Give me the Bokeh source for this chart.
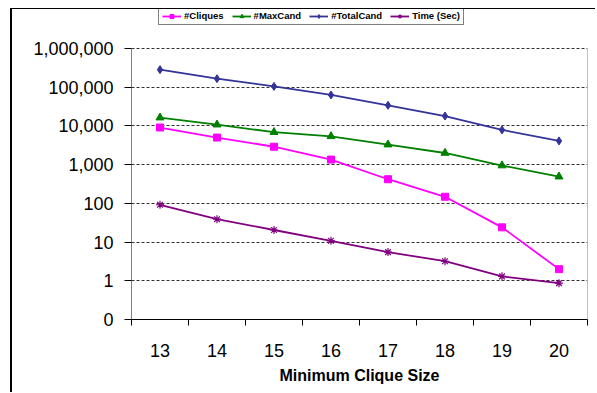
from bokeh.plotting import figure
from bokeh.models import Range1d, FixedTicker, Legend, LegendItem
from bokeh.embed import file_html
from bokeh.resources import INLINE

# ---- data ----
clique_sizes = [13, 14, 15, 16, 17, 18, 19, 20]
cliques = [9100, 5000, 2900, 1350, 420, 148, 24, 2.0]
max_cand = [16400, 10800, 6900, 5400, 3300, 2000, 950, 490]
total_cand = [284000, 166000, 105000, 63000, 34000, 18000, 7900, 4100]
time_sec = [92, 39, 20.5, 10.8, 5.5, 3.2, 1.3, 0.87]

y_ticks = [0.1, 1, 10, 100, 1000, 10000, 100000, 1000000]
y_tick_labels = ["0", "1", "10", "100", "1,000", "10,000", "100,000", "1,000,000"]
x_boundaries = [12.5, 13.5, 14.5, 15.5, 16.5, 17.5, 18.5, 19.5, 20.5]

series_names = ["#Cliques", "#MaxCand", "#TotalCand", "Time (Sec)"]

FONT = "Liberation Sans"
W, H = 585, 384
X0, X1 = x_boundaries[0], x_boundaries[-1]
Y0, Y1 = y_ticks[0], y_ticks[-1]
Y_TOP = 10 ** 7.0074  # extra head-room above the plot box, where the legend sits

p = figure(width=W, height=H, y_axis_type="log",
           x_range=Range1d(X0, X1), y_range=Range1d(Y0, Y_TOP),
           output_backend="svg", toolbar_location=None,
           min_border_left=119, min_border_top=0, min_border_right=10, min_border_bottom=74)
# outer chart border (left and top edges of the chart area)
p.styles = {"margin-left": "10px", "margin-top": "8px",
            "border-left": "2px solid black", "border-top": "1px solid black"}

p.outline_line_color = None
p.background_fill_color = "white"
p.border_fill_color = "white"

# grid
p.xgrid.visible = False
p.ygrid.ticker = FixedTicker(ticks=y_ticks[1:])
p.ygrid.grid_line_color = "#333333"
p.ygrid.grid_line_dash = "3 2"
p.ygrid.grid_line_width = 1

# plot-area box: black value axis on the left, grey edge on the right
p.segment(x0=[X0], y0=[Y0], x1=[X0], y1=[Y1], line_color="black", line_width=1)
p.segment(x0=[X1], y0=[Y0], x1=[X1], y1=[Y1], line_color="#808080", line_width=1)

# y axis
ya = p.yaxis[0]
ya.ticker = FixedTicker(ticks=y_ticks, minor_ticks=[])
ya.major_label_overrides = {t: l for t, l in zip(y_ticks, y_tick_labels)}
ya.major_label_text_font = FONT
ya.major_label_text_font_size = "18px"
ya.major_label_text_color = "black"
ya.major_tick_out = 7
ya.major_tick_in = 0
ya.minor_tick_line_color = None
ya.major_label_standoff = 11
ya.axis_line_color = None

# x axis
xa = p.xaxis[0]
xa.ticker = FixedTicker(ticks=clique_sizes, minor_ticks=x_boundaries)
xa.major_tick_out = 0
xa.major_tick_in = 0
xa.major_tick_line_color = None
xa.minor_tick_out = 6
xa.minor_tick_in = 0
xa.minor_tick_line_color = "black"
xa.major_label_text_font = FONT
xa.major_label_text_font_size = "18px"
xa.major_label_text_color = "black"
xa.major_label_standoff = 18
xa.axis_label = "Minimum Clique Size"
xa.axis_label_text_font = FONT
xa.axis_label_text_font_size = "16px"
xa.axis_label_text_font_style = "bold"
xa.axis_label_text_color = "black"
xa.axis_label_standoff = 7
xa.axis_line_color = "black"

LW = 1.8
r1l = p.line(clique_sizes, cliques, line_color="#FF00FF", line_width=LW)
r1m = p.scatter(clique_sizes, cliques, marker="square", size=7, fill_color="#FF00FF", line_color="#FF00FF")
r2l = p.line(clique_sizes, max_cand, line_color="#008000", line_width=LW)
r2m = p.scatter(clique_sizes, max_cand, marker="triangle", size=8, fill_color="#008000", line_color="#008000")
r3l = p.line(clique_sizes, total_cand, line_color="#333399", line_width=LW)
r3m = p.scatter(clique_sizes, total_cand, marker="diamond", size=8, fill_color="#333399", line_color="#333399")
r4l = p.line(clique_sizes, time_sec, line_color="#800080", line_width=LW)
r4m = p.scatter(clique_sizes, time_sec, marker="asterisk", size=8, fill_color=None, line_color="#800080", line_width=1.2)

legend = Legend(items=[
    LegendItem(label=series_names[0], renderers=[r1l, r1m]),
    LegendItem(label=series_names[1], renderers=[r2l, r2m]),
    LegendItem(label=series_names[2], renderers=[r3l, r3m]),
    LegendItem(label=series_names[3], renderers=[r4l, r4m]),
], location=(27, 294), orientation="horizontal")
legend.label_text_font = FONT
legend.label_text_font_size = "9.5px"
legend.label_text_font_style = "bold"
legend.label_text_color = "black"
legend.label_height = 10
legend.glyph_height = 10
legend.glyph_width = 19
legend.label_standoff = 3
legend.spacing = 8
legend.padding = 3
legend.margin = 0
legend.border_line_color = "black"
legend.border_line_width = 1
legend.background_fill_color = "white"
legend.background_fill_alpha = 1
p.add_layout(legend, "center")

open("out.html", "w").write(file_html(p, INLINE))
